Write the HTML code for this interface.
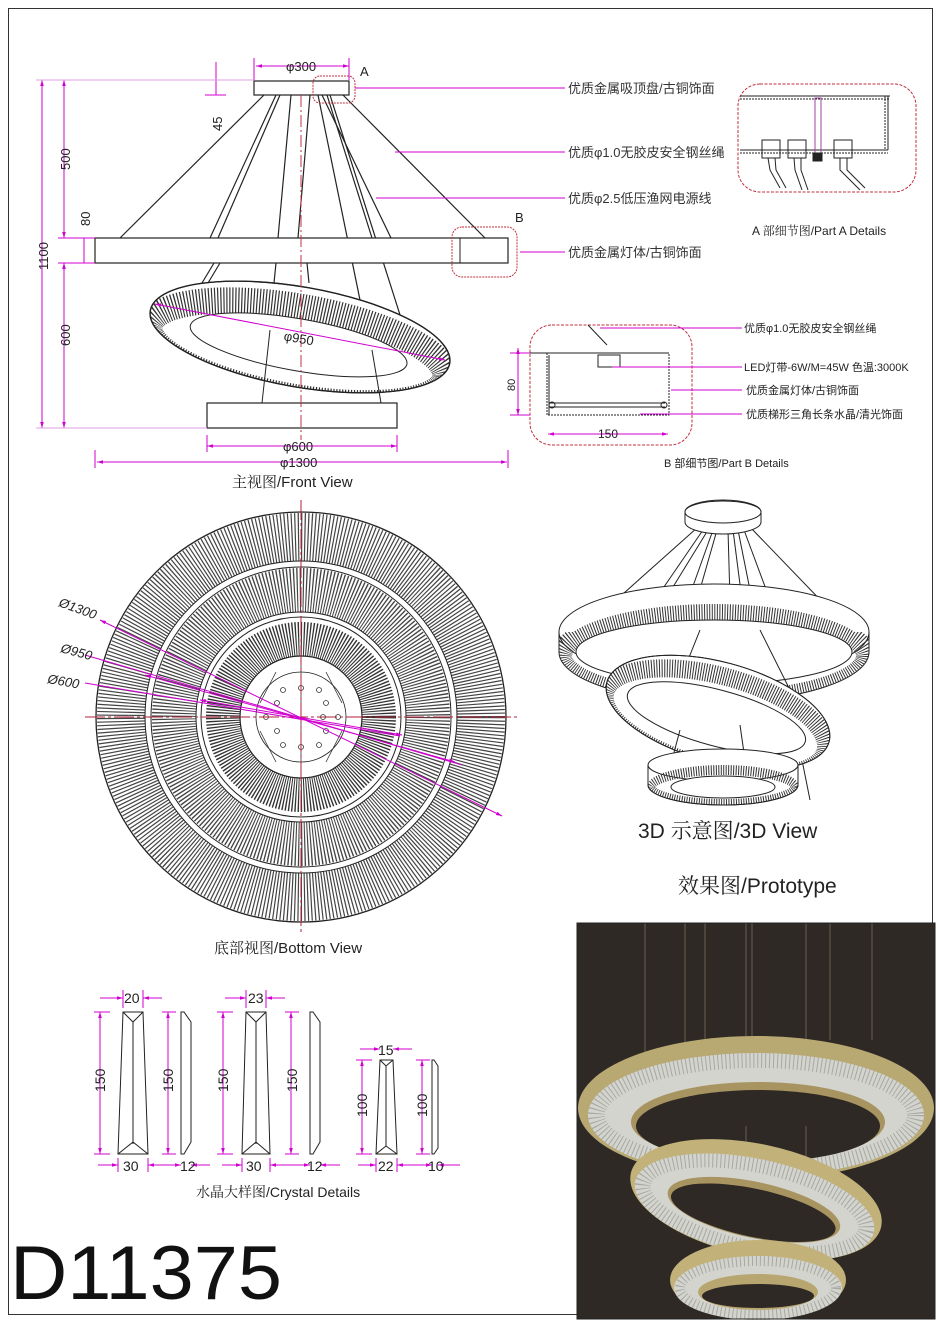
<!DOCTYPE html>
<html><head><meta charset="utf-8"><style>
html,body{margin:0;padding:0;background:#fff;}
svg{display:block;}
text{font-family:"Liberation Sans","Noto Sans CJK SC",sans-serif;}
.cn{font-family:"Noto Serif CJK SC","Liberation Serif",serif;}
</style></head><body>
<svg width="940" height="1322" viewBox="0 0 940 1322" xmlns="http://www.w3.org/2000/svg">
<defs>
<marker id="ar" viewBox="0 0 10 10" refX="10" refY="5" markerWidth="6" markerHeight="6" orient="auto-start-reverse"><path d="M0,2L10,5L0,8z" fill="#d000d0"/></marker>
<clipPath id="cFront"><ellipse cx="300" cy="337" rx="152" ry="50"/></clipPath>
<clipPath id="cBig"><path d="M559 632 v20 a155 50 0 0 0 310 0 v-20 z"/><ellipse cx="714" cy="652" rx="155" ry="48"/></clipPath>
<clipPath id="cMid"><ellipse cx="718" cy="712" rx="115" ry="50"/></clipPath>
<clipPath id="cBot"><ellipse cx="723" cy="785" rx="75" ry="20"/></clipPath>
<clipPath id="cP1"><ellipse cx="756" cy="1115" rx="168" ry="62"/></clipPath>
<clipPath id="cP2"><ellipse cx="756" cy="1207" rx="122" ry="48"/></clipPath>
<clipPath id="cP3"><ellipse cx="758" cy="1288" rx="84" ry="32"/></clipPath>
</defs>
<rect x="0" y="0" width="940" height="1322" fill="#fff"/>
<rect x="8.5" y="8.5" width="924" height="1306" fill="none" stroke="#333" stroke-width="1"/>

<!-- ===== FRONT VIEW ===== -->
<g stroke="#222" stroke-width="1.2" fill="none">
  <line x1="264" y1="95" x2="120" y2="238"/>
  <line x1="343" y1="95" x2="485" y2="238"/>
  <line x1="276" y1="95" x2="210" y2="238"/>
  <line x1="280" y1="95" x2="218" y2="238"/>
  <line x1="291" y1="95" x2="278" y2="238"/>
  <line x1="322" y1="95" x2="391" y2="238"/>
  <line x1="327" y1="95" x2="372" y2="238"/>
  <line x1="330" y1="95" x2="408" y2="340"/>
  <line x1="318" y1="95" x2="360" y2="300"/>
  <line x1="214" y1="263" x2="202" y2="283"/>
  <line x1="220" y1="263" x2="208" y2="283"/>
  <line x1="276" y1="263" x2="274" y2="283"/>
  <line x1="307" y1="263" x2="309" y2="283"/>
  <line x1="310" y1="95" x2="298" y2="238"/>
</g>
<rect x="254" y="81" width="95" height="14" fill="#fff" stroke="#222" stroke-width="1.2"/>
<rect x="95" y="238" width="413" height="25" fill="#fff" stroke="#222" stroke-width="1.2"/>
<line x1="460" y1="238" x2="460" y2="263" stroke="#222"/>
<g transform="rotate(10 300 337)">
  <ellipse cx="300" cy="337" rx="152" ry="50" fill="#fff" stroke="#222" stroke-width="1.3"/>
  <g clip-path="url(#cFront)">
    <ellipse cx="300" cy="352" rx="150" ry="45" fill="none" stroke="#333" stroke-width="26" stroke-dasharray="1.2 1.8"/>
  </g>
  <ellipse cx="300" cy="337" rx="152" ry="50" fill="none" stroke="#222" stroke-width="1.3"/>
  <ellipse cx="300" cy="345" rx="110" ry="26" fill="#fff" stroke="#222" stroke-width="1"/>
</g>
<line x1="270" y1="330" x2="262" y2="403" stroke="#222"/>
<line x1="372" y1="350" x2="381" y2="403" stroke="#222"/>
<rect x="207" y="403" width="190" height="25" fill="#fff" stroke="#222" stroke-width="1.2"/>
<line x1="301" y1="95" x2="301" y2="440" stroke="#c0304a" stroke-width="1" stroke-dasharray="12 3 2 3"/>
<g stroke="#d000d0" stroke-width="1" fill="none">
  <line x1="256" y1="66" x2="349" y2="66" marker-start="url(#ar)" marker-end="url(#ar)"/>
  <line x1="254" y1="58" x2="254" y2="80"/><line x1="349" y1="58" x2="349" y2="80"/>
  <line x1="216" y1="62" x2="216" y2="95"/>
  <line x1="205" y1="80" x2="226" y2="80"/><line x1="205" y1="95" x2="226" y2="95"/>
  <line x1="42" y1="80" x2="42" y2="428" marker-start="url(#ar)" marker-end="url(#ar)"/>
  <line x1="64" y1="80" x2="64" y2="238" marker-start="url(#ar)" marker-end="url(#ar)"/>
  <line x1="64" y1="263" x2="64" y2="428" marker-start="url(#ar)" marker-end="url(#ar)"/>
  <line x1="84" y1="238" x2="84" y2="263"/>
  <line x1="36" y1="80" x2="254" y2="80" stroke="#e0a0e0"/>
  <line x1="36" y1="428" x2="207" y2="428" stroke="#e0a0e0"/>
  <line x1="58" y1="238" x2="95" y2="238"/><line x1="58" y1="263" x2="95" y2="263"/>
  <line x1="207" y1="446" x2="397" y2="446" marker-start="url(#ar)" marker-end="url(#ar)"/>
  <line x1="207" y1="435" x2="207" y2="452"/><line x1="397" y1="435" x2="397" y2="452"/>
  <line x1="97" y1="462" x2="507" y2="462" marker-start="url(#ar)" marker-end="url(#ar)"/>
  <line x1="95" y1="450" x2="95" y2="468"/><line x1="508" y1="450" x2="508" y2="468"/>
  <line x1="155" y1="304" x2="445" y2="360" marker-start="url(#ar)" marker-end="url(#ar)"/>
  <line x1="355" y1="88" x2="565" y2="88"/>
  <line x1="395" y1="152" x2="565" y2="152"/>
  <line x1="376" y1="198" x2="565" y2="198"/>
  <line x1="520" y1="252" x2="565" y2="252"/>
</g>
<g fill="none" stroke="#c03040" stroke-width="1" stroke-dasharray="2 1">
  <rect x="313" y="76" width="42" height="27" rx="7"/>
  <rect x="452" y="227" width="65" height="50" rx="10"/>
</g>
<g font-size="13" fill="#222">
  <text x="286" y="71">φ300</text>
  <text x="360" y="76">A</text>
  <text x="515" y="222">B</text>
  <text x="283" y="451">φ600</text>
  <text x="280" y="467">φ1300</text>
  <text x="284" y="343" transform="rotate(10 300 337)">φ950</text>
  <text transform="translate(222 131) rotate(-90)">45</text>
  <text transform="translate(70 170) rotate(-90)">500</text>
  <text transform="translate(90 226) rotate(-90)">80</text>
  <text transform="translate(48 270) rotate(-90)">1100</text>
  <text transform="translate(70 346) rotate(-90)">600</text>
</g>
<text x="232" y="487" font-size="15" fill="#222"><tspan class="cn">主视图</tspan>/Front View</text>
<g font-size="13" fill="#333" class="cn">
  <text x="568" y="93">优质金属吸顶盘/古铜饰面</text>
  <text x="568" y="157">优质φ1.0无胶皮安全钢丝绳</text>
  <text x="568" y="203">优质φ2.5低压渔网电源线</text>
  <text x="568" y="257">优质金属灯体/古铜饰面</text>
</g>

<!-- Part A -->
<rect x="738" y="84" width="178" height="108" rx="22" fill="none" stroke="#c03040" stroke-width="1" stroke-dasharray="3 1.5"/>
<g stroke="#222" fill="none" stroke-width="1">
  <line x1="740" y1="96" x2="890" y2="96"/><line x1="740" y1="99" x2="890" y2="99" stroke-dasharray="2 1"/>
  <line x1="888" y1="96" x2="888" y2="150"/><line x1="885" y1="96" x2="885" y2="150" stroke-dasharray="2 1"/>
  <line x1="740" y1="150" x2="888" y2="150"/><line x1="740" y1="153" x2="888" y2="153" stroke-dasharray="2 1"/>
  <rect x="815" y="98" width="6" height="55" stroke="#a040a0"/>
  <rect x="813" y="153" width="9" height="8" fill="#222"/>
  <rect x="762" y="140" width="18" height="18"/><rect x="788" y="140" width="18" height="18"/><rect x="834" y="140" width="18" height="18"/>
  <path d="M768 158 L770 170 L780 188 M775 158 L776 170 L786 188"/>
  <path d="M794 158 L795 170 L802 190 M801 158 L801 170 L808 190"/>
  <path d="M840 158 L840 170 L860 190 M847 158 L847 170 L865 188"/>
</g>
<text x="752" y="235" font-size="12" fill="#222"><tspan>A </tspan><tspan class="cn">部细节图</tspan>/Part A Details</text>

<!-- Part B -->
<rect x="530" y="325" width="162" height="120" rx="22" fill="none" stroke="#c03040" stroke-width="1" stroke-dasharray="3 1.5"/>
<g stroke="#222" fill="none" stroke-width="1">
  <line x1="530" y1="353" x2="669" y2="353"/>
  <rect x="547" y="353" width="122" height="62" stroke-dasharray="2 1"/>
  <line x1="549" y1="355" x2="549" y2="415"/>
  <rect x="598" y="355" width="22" height="12"/>
  <line x1="588" y1="325" x2="607" y2="345"/>
  <line x1="550" y1="403" x2="665" y2="403"/><line x1="550" y1="407" x2="665" y2="407"/>
  <circle cx="552" cy="405" r="3"/><circle cx="664" cy="405" r="3"/>
</g>
<g stroke="#d000d0" stroke-width="1" fill="none">
  <line x1="600" y1="328" x2="742" y2="328"/>
  <line x1="612" y1="367" x2="742" y2="367"/>
  <line x1="671" y1="390" x2="742" y2="390"/>
  <line x1="640" y1="414" x2="742" y2="414"/>
  <line x1="548" y1="434" x2="668" y2="434" marker-start="url(#ar)" marker-end="url(#ar)"/>
  <line x1="518" y1="348" x2="518" y2="415" marker-start="url(#ar)" marker-end="url(#ar)"/>
  <line x1="510" y1="353" x2="530" y2="353"/><line x1="510" y1="415" x2="530" y2="415"/>
</g>
<text x="598" y="438" font-size="12" fill="#222">150</text>
<text transform="translate(515 391) rotate(-90)" font-size="11" fill="#222">80</text>
<g font-size="11" fill="#222">
  <text x="744" y="332">优质φ1.0无胶皮安全钢丝绳</text>
  <text x="744" y="371">LED灯带-6W/M=45W 色温:3000K</text>
  <text x="746" y="394">优质金属灯体/古铜饰面</text>
  <text x="746" y="418">优质梯形三角长条水晶/清光饰面</text>
</g>
<text x="664" y="467" font-size="11" fill="#222">B 部细节图/Part B Details</text>

<!-- ===== BOTTOM VIEW ===== -->
<g fill="none" stroke="#222">
  <circle cx="301" cy="717" r="180" stroke="#444" stroke-width="48" stroke-dasharray="1.2 2"/>
  <circle cx="301" cy="717" r="205" stroke-width="1.3"/>
  <circle cx="301" cy="717" r="156" stroke-width="1"/>
  <circle cx="301" cy="717" r="150" stroke-width="1"/>
  <circle cx="301" cy="717" r="127" stroke="#444" stroke-width="44" stroke-dasharray="1.2 1.8"/>
  <circle cx="301" cy="717" r="105" stroke-width="1"/>
  <circle cx="301" cy="717" r="100" stroke-width="1"/>
  <circle cx="301" cy="717" r="78" stroke="#333" stroke-width="34" stroke-dasharray="1.2 1.5"/>
  <circle cx="301" cy="717" r="61" fill="#fff" stroke-width="1.2"/>
  <circle cx="301" cy="717" r="45" stroke-width="0.8"/>
</g>
<g stroke="#333" stroke-width="0.8" fill="#fff">
  <line x1="301" y1="656" x2="301" y2="778"/>
  <line x1="276" y1="672" x2="260" y2="703"/><line x1="326" y1="672" x2="342" y2="703"/>
  <line x1="276" y1="762" x2="260" y2="731"/><line x1="326" y1="762" x2="342" y2="731"/>
  <circle cx="301" cy="688" r="2.5"/><circle cx="283" cy="690" r="2.5"/><circle cx="319" cy="690" r="2.5"/>
  <circle cx="277" cy="703" r="2.5"/><circle cx="326" cy="703" r="2.5"/>
  <circle cx="266" cy="717" r="2.5"/><circle cx="323" cy="717" r="2.5"/><circle cx="338" cy="717" r="2.5"/>
  <circle cx="277" cy="731" r="2.5"/><circle cx="326" cy="731" r="2.5"/>
  <circle cx="283" cy="745" r="2.5"/><circle cx="319" cy="745" r="2.5"/><circle cx="301" cy="747" r="2.5"/>
</g>
<g stroke="#b0203a" stroke-width="1" stroke-dasharray="20 3 3 3">
  <line x1="85" y1="717" x2="520" y2="717"/>
  <line x1="301" y1="500" x2="301" y2="935"/>
</g>
<g stroke="#d000d0" stroke-width="1">
  <line x1="100" y1="620" x2="502" y2="816" marker-start="url(#ar)" marker-end="url(#ar)"/>
  <line x1="85" y1="655" x2="462" y2="765"/>
  <line x1="145" y1="675" x2="455" y2="762" marker-start="url(#ar)" marker-end="url(#ar)"/>
  <line x1="85" y1="683" x2="400" y2="736"/>
  <line x1="200" y1="700" x2="402" y2="735" marker-start="url(#ar)" marker-end="url(#ar)"/>
</g>
<g font-size="13" fill="#222" font-style="italic">
  <text x="58" y="606" transform="rotate(20 58 606)">Ø1300</text>
  <text x="60" y="652" transform="rotate(15 60 652)">Ø950</text>
  <text x="47" y="683" transform="rotate(10 47 683)">Ø600</text>
</g>
<text x="214" y="953" font-size="15" fill="#222"><tspan class="cn">底部视图</tspan>/Bottom View</text>

<!-- ===== 3D VIEW ===== -->
<g stroke="#222" stroke-width="1" fill="none">
  <line x1="698" y1="527" x2="605" y2="610"/><line x1="750" y1="527" x2="830" y2="610"/>
  <line x1="703" y1="530" x2="655" y2="600"/><line x1="708" y1="530" x2="665" y2="600"/>
  <line x1="713" y1="530" x2="688" y2="600"/><line x1="717" y1="530" x2="697" y2="600"/>
  <line x1="728" y1="530" x2="730" y2="600"/><line x1="733" y1="530" x2="742" y2="600"/>
  <line x1="738" y1="530" x2="752" y2="600"/><line x1="744" y1="530" x2="770" y2="600"/>
  <line x1="790" y1="700" x2="810" y2="800"/>
</g>
<path d="M685 522 v-10 a38 12 0 0 1 76 0 v10 a38 12 0 0 1 -76 0" fill="#fff" stroke="#222"/>
<ellipse cx="723" cy="512" rx="38" ry="11" fill="#fff" stroke="#222"/>
<!-- big ring -->
<path d="M559 632 v20 a155 50 0 0 0 310 0 v-20" fill="#fff" stroke="#222"/>
<ellipse cx="714" cy="632" rx="155" ry="48" fill="#fff" stroke="#222"/>
<g clip-path="url(#cBig)">
  <ellipse cx="714" cy="656" rx="152" ry="45" fill="none" stroke="#333" stroke-width="20" stroke-dasharray="1 1.6"/>
</g>
<ellipse cx="714" cy="652" rx="138" ry="32" fill="#fff" stroke="#222"/>
<line x1="700" y1="630" x2="688" y2="660" stroke="#222"/><line x1="760" y1="630" x2="790" y2="690" stroke="#222"/>
<!-- middle ring -->
<g transform="rotate(15 718 712)">
  <ellipse cx="718" cy="712" rx="115" ry="50" fill="#fff" stroke="#222"/>
  <g clip-path="url(#cMid)">
    <ellipse cx="718" cy="722" rx="114" ry="46" fill="none" stroke="#333" stroke-width="18" stroke-dasharray="1 1.6"/>
  </g>
  <ellipse cx="718" cy="712" rx="115" ry="50" fill="none" stroke="#222"/>
  <ellipse cx="718" cy="718" rx="92" ry="28" fill="#fff" stroke="#222"/>
</g>
<line x1="680" y1="730" x2="672" y2="760" stroke="#222"/><line x1="740" y1="725" x2="745" y2="760" stroke="#222"/>
<!-- bottom ring -->
<path d="M648 765 v20 a75 20 0 0 0 150 0 v-20" fill="#fff" stroke="#222"/>
<ellipse cx="723" cy="765" rx="75" ry="16" fill="#fff" stroke="#222"/>
<g clip-path="url(#cBot)">
  <ellipse cx="723" cy="787" rx="74" ry="18" fill="none" stroke="#333" stroke-width="12" stroke-dasharray="1 1.5"/>
</g>
<path d="M648 785 a75 20 0 0 0 150 0" fill="none" stroke="#222"/>
<ellipse cx="723" cy="787" rx="52" ry="11" fill="#fff" stroke="#222"/>
<text x="638" y="838" font-size="21" fill="#222"><tspan>3D </tspan><tspan class="cn">示意图</tspan>/3D View</text>
<text x="678" y="893" font-size="21" fill="#222"><tspan class="cn">效果图</tspan>/Prototype</text>

<!-- ===== CRYSTALS ===== -->
<g stroke="#222" stroke-width="1" fill="#fff">
  <path d="M123 1012 H143 L148 1154 H118 Z"/>
  <path d="M123 1012 L133 1022 L143 1012 M133 1022 V1144 M118 1154 L133 1142 L148 1154" fill="none"/>
  <path d="M181 1012 H184 L191 1022 V1142 L184 1154 H181 Z"/>
  <path d="M246 1012 H266 L270 1154 H242 Z"/>
  <path d="M246 1012 L256 1022 L266 1012 M256 1022 V1144 M242 1154 L256 1142 L270 1154" fill="none"/>
  <path d="M310 1012 H313 L320 1022 V1142 L313 1154 H310 Z"/>
  <path d="M380 1060 H393 L397 1154 H376 Z"/>
  <path d="M380 1060 L386 1066 L393 1060 M386 1066 V1146 M376 1154 L386 1146 L397 1154" fill="none"/>
  <path d="M432 1060 H434 L438 1066 V1148 L434 1154 H432 Z"/>
</g>
<g stroke="#d000d0" stroke-width="1" fill="none">
  <line x1="100" y1="998" x2="123" y2="998" marker-end="url(#ar)"/><line x1="143" y1="998" x2="162" y2="998" marker-start="url(#ar)"/>
  <line x1="123" y1="990" x2="123" y2="1008"/><line x1="143" y1="990" x2="143" y2="1008"/>
  <line x1="100" y1="1012" x2="100" y2="1154" marker-start="url(#ar)" marker-end="url(#ar)"/>
  <line x1="94" y1="1012" x2="110" y2="1012"/><line x1="94" y1="1154" x2="110" y2="1154"/>
  <line x1="168" y1="1012" x2="168" y2="1154" marker-start="url(#ar)" marker-end="url(#ar)"/>
  <line x1="162" y1="1012" x2="176" y2="1012"/><line x1="162" y1="1154" x2="176" y2="1154"/>
  <line x1="98" y1="1165" x2="118" y2="1165" marker-end="url(#ar)"/><line x1="148" y1="1165" x2="168" y2="1165" marker-start="url(#ar)"/>
  <line x1="118" y1="1158" x2="118" y2="1172"/><line x1="148" y1="1158" x2="148" y2="1172"/>
  <line x1="155" y1="1165" x2="181" y2="1165" marker-end="url(#ar)"/><line x1="191" y1="1165" x2="210" y2="1165" marker-start="url(#ar)"/>
  <line x1="225" y1="998" x2="246" y2="998" marker-end="url(#ar)"/><line x1="266" y1="998" x2="285" y2="998" marker-start="url(#ar)"/>
  <line x1="246" y1="990" x2="246" y2="1008"/><line x1="266" y1="990" x2="266" y2="1008"/>
  <line x1="223" y1="1012" x2="223" y2="1154" marker-start="url(#ar)" marker-end="url(#ar)"/>
  <line x1="217" y1="1012" x2="233" y2="1012"/><line x1="217" y1="1154" x2="233" y2="1154"/>
  <line x1="291" y1="1012" x2="291" y2="1154" marker-start="url(#ar)" marker-end="url(#ar)"/>
  <line x1="285" y1="1012" x2="299" y2="1012"/><line x1="285" y1="1154" x2="299" y2="1154"/>
  <line x1="222" y1="1165" x2="242" y2="1165" marker-end="url(#ar)"/><line x1="270" y1="1165" x2="290" y2="1165" marker-start="url(#ar)"/>
  <line x1="242" y1="1158" x2="242" y2="1172"/><line x1="270" y1="1158" x2="270" y2="1172"/>
  <line x1="280" y1="1165" x2="310" y2="1165" marker-end="url(#ar)"/><line x1="320" y1="1165" x2="340" y2="1165" marker-start="url(#ar)"/>
  <line x1="360" y1="1049" x2="380" y2="1049" marker-end="url(#ar)"/><line x1="393" y1="1049" x2="412" y2="1049" marker-start="url(#ar)"/>
  <line x1="362" y1="1060" x2="362" y2="1154" marker-start="url(#ar)" marker-end="url(#ar)"/>
  <line x1="356" y1="1060" x2="372" y2="1060"/><line x1="356" y1="1154" x2="372" y2="1154"/>
  <line x1="422" y1="1060" x2="422" y2="1154" marker-start="url(#ar)" marker-end="url(#ar)"/>
  <line x1="416" y1="1060" x2="430" y2="1060"/><line x1="416" y1="1154" x2="430" y2="1154"/>
  <line x1="358" y1="1165" x2="376" y2="1165" marker-end="url(#ar)"/><line x1="397" y1="1165" x2="415" y2="1165" marker-start="url(#ar)"/>
  <line x1="376" y1="1158" x2="376" y2="1172"/><line x1="397" y1="1158" x2="397" y2="1172"/>
  <line x1="410" y1="1165" x2="432" y2="1165" marker-end="url(#ar)"/><line x1="438" y1="1165" x2="460" y2="1165" marker-start="url(#ar)"/>
</g>
<g font-size="14" fill="#222">
  <text x="124" y="1003">20</text><text x="248" y="1003">23</text><text x="378" y="1055">15</text>
  <text x="123" y="1171">30</text><text x="246" y="1171">30</text><text x="378" y="1171">22</text>
  <text x="180" y="1171">12</text><text x="307" y="1171">12</text><text x="428" y="1171">10</text>
  <text transform="translate(105 1092) rotate(-90)">150</text>
  <text transform="translate(173 1092) rotate(-90)">150</text>
  <text transform="translate(228 1092) rotate(-90)">150</text>
  <text transform="translate(297 1092) rotate(-90)">150</text>
  <text transform="translate(367 1117) rotate(-90)">100</text>
  <text transform="translate(427 1117) rotate(-90)">100</text>
</g>
<text x="196" y="1197" font-size="14" fill="#222"><tspan class="cn">水晶大样图</tspan>/Crystal Details</text>

<text x="10" y="1299" font-size="76" fill="#111" textLength="272" lengthAdjust="spacingAndGlyphs">D11375</text>

<!-- ===== PROTOTYPE PHOTO ===== -->
<rect x="577" y="923" width="358" height="396" fill="#2e2925"/>
<g stroke="#6a5e50" stroke-width="1">
  <line x1="645" y1="923" x2="645" y2="1100"/><line x1="685" y1="923" x2="685" y2="1060"/>
  <line x1="705" y1="923" x2="705" y2="1120"/><line x1="746" y1="923" x2="746" y2="1210"/>
  <line x1="752" y1="923" x2="752" y2="1210"/><line x1="806" y1="923" x2="806" y2="1200"/>
  <line x1="830" y1="923" x2="830" y2="1040"/><line x1="872" y1="923" x2="872" y2="1040"/>
</g>
<ellipse cx="756" cy="1108" rx="178" ry="72" fill="#b8a872"/>
<ellipse cx="756" cy="1115" rx="168" ry="62" fill="#d4d4ce"/>
<g clip-path="url(#cP1)"><ellipse cx="756" cy="1115" rx="160" ry="56" fill="none" stroke="#8a8a86" stroke-width="18" stroke-dasharray="1 3" opacity="0.6"/></g>
<ellipse cx="758" cy="1122" rx="127" ry="40" fill="#a89460"/>
<ellipse cx="758" cy="1126" rx="122" ry="36" fill="#2e2925"/>
<line x1="746" y1="1126" x2="746" y2="1200" stroke="#6a5e50"/><line x1="806" y1="1126" x2="806" y2="1190" stroke="#6a5e50"/>
<g transform="rotate(12 756 1200)">
  <ellipse cx="756" cy="1200" rx="128" ry="56" fill="#c2b27a"/>
  <ellipse cx="756" cy="1207" rx="122" ry="48" fill="#d4d4ce"/>
  <g clip-path="url(#cP2)"><ellipse cx="756" cy="1207" rx="114" ry="42" fill="none" stroke="#8a8a86" stroke-width="16" stroke-dasharray="1 3" opacity="0.6"/></g>
  <ellipse cx="756" cy="1210" rx="88" ry="28" fill="#a89460"/>
  <ellipse cx="756" cy="1213" rx="84" ry="24" fill="#2e2925"/>
</g>
<ellipse cx="758" cy="1280" rx="88" ry="40" fill="#c2b27a"/>
<ellipse cx="758" cy="1288" rx="84" ry="32" fill="#d4d4ce"/>
<g clip-path="url(#cP3)"><ellipse cx="758" cy="1288" rx="78" ry="27" fill="none" stroke="#8a8a86" stroke-width="10" stroke-dasharray="1 3" opacity="0.6"/></g>
<ellipse cx="758" cy="1292" rx="60" ry="18" fill="#b8a670"/>
<ellipse cx="758" cy="1296" rx="56" ry="12" fill="#2e2925"/>
<rect x="577" y="923" width="358" height="396" fill="none" stroke="#222"/>
</svg>
</body></html>
